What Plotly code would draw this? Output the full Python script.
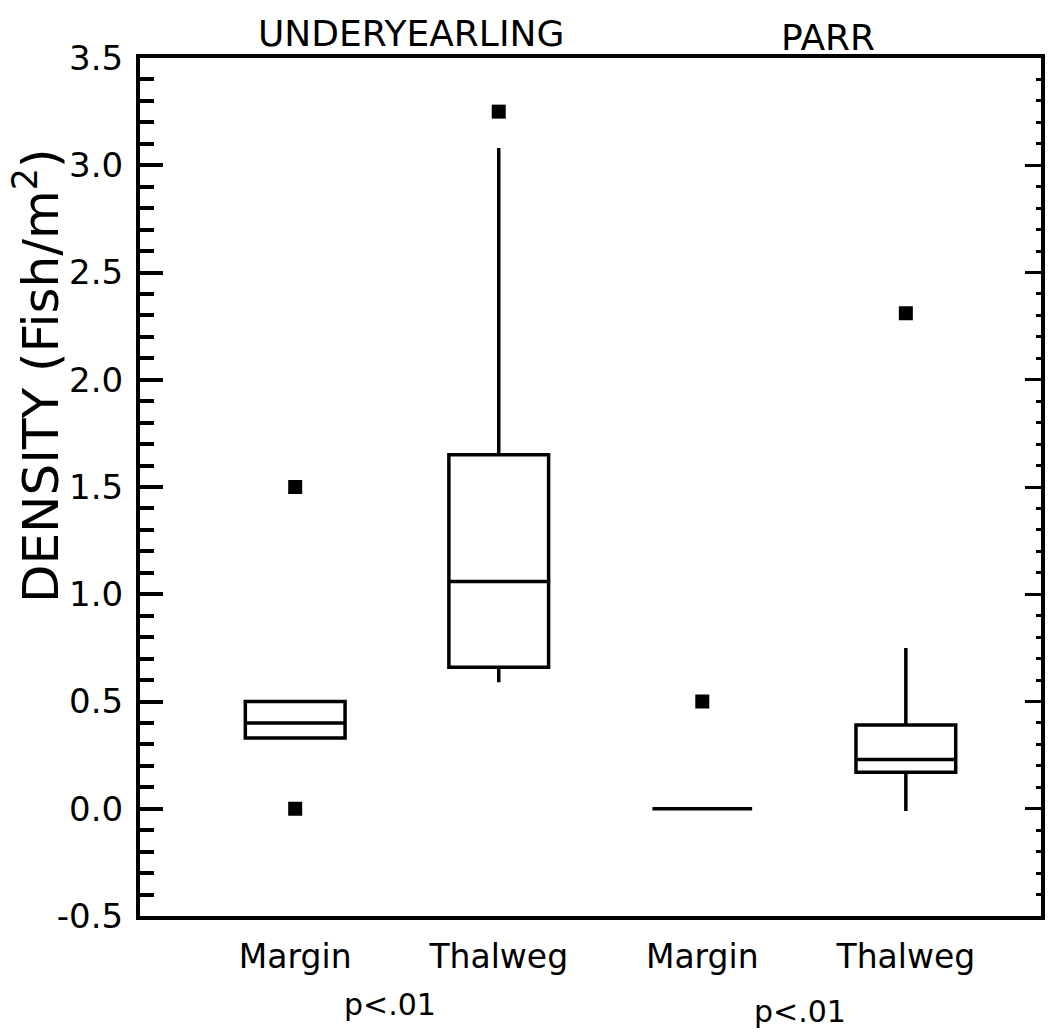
import plotly.graph_objects as go

# Fish density by habitat (margin vs. thalweg) for two life stages
groups = ["UNDERYEARLING", "PARR"]
categories = ["Margin", "Thalweg", "Margin", "Thalweg"]
positions = [1, 2, 3, 4]

q1 = [0.33, 0.66, 0.00, 0.17]
median = [0.40, 1.06, 0.00, 0.23]
q3 = [0.50, 1.65, 0.00, 0.39]
lower_whisker = [0.33, 0.59, 0.00, -0.01]
upper_whisker = [0.50, 3.08, 0.00, 0.75]

outliers = [[1.50, 0.00], [3.25], [0.50], [2.31]]

significance = ["p<.01", "p<.01"]

y_tick_values = [-0.5, 0.0, 0.5, 1.0, 1.5, 2.0, 2.5, 3.0, 3.5]
y_tick_labels = ["-0.5", "0.0", "0.5", "1.0", "1.5", "2.0", "2.5", "3.0", "3.5"]

FONT = "DejaVu Sans, Verdana, sans-serif"
W, H = 1050, 1032
L, R, T, B = 140, 9, 58, 116

def px_x(x):
    return (x - L) / (W - L - R)

def px_y(y):
    return (H - B - y) / (H - T - B)

fig = go.Figure()

for i, pos in enumerate(positions):
    fig.add_trace(go.Box(
        x=[pos], q1=[q1[i]], median=[median[i]], q3=[q3[i]],
        lowerfence=[lower_whisker[i]], upperfence=[upper_whisker[i]],
        width=0.49, whiskerwidth=0, boxpoints=False,
        line=dict(color="black", width=3.5), fillcolor="white",
        showlegend=False, hoverinfo="skip",
    ))

ox, oy = [], []
for pos, vals in zip(positions, outliers):
    for v in vals:
        ox.append(pos)
        oy.append(v)
fig.add_trace(go.Scatter(
    x=ox, y=oy, mode="markers",
    marker=dict(symbol="square", size=14, color="black", line=dict(width=0)),
    showlegend=False, hoverinfo="skip",
))

# carrier trace for the right-hand tick axis
fig.add_trace(go.Scatter(x=[None], y=[None], yaxis="y2", mode="markers",
                         showlegend=False, hoverinfo="skip"))

yrange = [-0.5, 3.5]

fig.update_layout(
    width=W, height=H,
    margin=dict(l=L, r=R, t=T, b=B),
    paper_bgcolor="white", plot_bgcolor="white",
    font=dict(family=FONT, color="black", size=33),
    xaxis=dict(
        range=[0.2376, 4.664], tickvals=positions, ticktext=categories,
        ticks="", showline=True, linewidth=4, linecolor="black", mirror=True,
        showgrid=False, zeroline=False,
        tickfont=dict(size=33, family=FONT, color="black"),
        ticklabelstandoff=8,
    ),
    yaxis=dict(
        range=yrange, tickvals=y_tick_values, ticktext=y_tick_labels,
        ticks="inside", ticklen=23, tickwidth=3.5, tickcolor="black",
        showline=True, linewidth=4, linecolor="black",
        showgrid=False, zeroline=False,
        tickfont=dict(size=34, family=FONT, color="black"),
        ticklabelstandoff=6,
        minor=dict(ticks="inside", ticklen=14, tickwidth=3.5, dtick=0.1,
                   tickcolor="black", showgrid=False),
    ),
    yaxis2=dict(
        range=yrange, dtick=0.5, tick0=0, overlaying="y", side="right",
        anchor="x", ticks="inside", ticklen=16, tickwidth=3,
        tickcolor="black", showline=True, linewidth=4, linecolor="black",
        showgrid=False, zeroline=False, showticklabels=False,
        minor=dict(ticks="inside", ticklen=5, tickwidth=3, dtick=0.1,
                   tickcolor="black", showgrid=False),
    ),
)

annotations = [
    dict(text=groups[0], x=px_x(411), y=px_y(33), size=36),
    dict(text=groups[1], x=px_x(828), y=px_y(37), size=36),
    dict(text=significance[0], x=px_x(390), y=px_y(1004), size=30),
    dict(text=significance[1], x=px_x(800), y=px_y(1011), size=30),
]
for a in annotations:
    fig.add_annotation(
        text=a["text"], x=a["x"], y=a["y"], xref="paper", yref="paper",
        xanchor="center", yanchor="middle", showarrow=False,
        font=dict(size=a["size"], family=FONT, color="black"),
    )

fig.add_annotation(
    text="DENSITY (Fish/m<sup>2</sup>)", textangle=-90,
    x=px_x(37), y=px_y(376), xref="paper", yref="paper",
    xanchor="center", yanchor="middle", showarrow=False,
    font=dict(size=50, family=FONT, color="black"),
)

fig.write_html("out.html")
